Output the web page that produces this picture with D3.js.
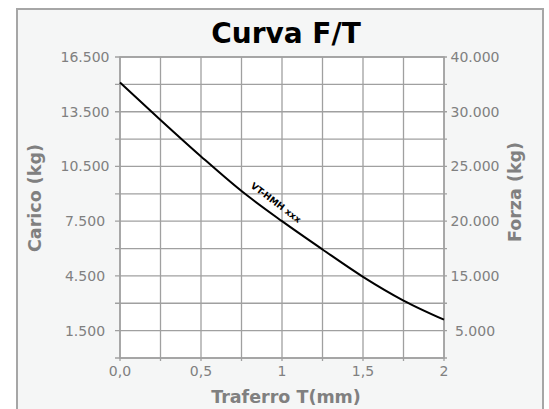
<!DOCTYPE html>
<html>
<head>
<meta charset="utf-8">
<script src="https://d3js.org/d3.v7.min.js"></script>
<style>
body { margin: 0; background: #ffffff; }
svg { display: block; font-family: "DejaVu Sans", Verdana, sans-serif; }
</style>
</head>
<body>
<div id="main"></div>
<script>
// data
var gap = [0, 0.25, 0.5, 0.75, 1, 1.25, 1.5, 1.75, 2];           // traferro T (mm)
var load = [15100, 13050, 11050, 9150, 7500, 5950, 4450, 3150, 2100]; // carico (kg)
var xTicks = [0, 0.25, 0.5, 0.75, 1, 1.25, 1.5, 1.75, 2];
var xTickLabels = {0: "0,0", 0.5: "0,5", 1: "1", 1.5: "1,5", 2: "2"};
var leftTicks = d3.range(0, 16501, 1500);
var leftTickLabels = ["1.500", "4.500", "7.500", "10.500", "13.500", "16.500"];
var rightTickLabels = ["5.000", "15.000", "20.000", "25.000", "30.000", "40.000"];
var seriesName = "VT-HMH xxx";

var width = 549, height = 409;
var plot = {left: 120, right: 444, top: 57, bottom: 358};
var gridColor = "#a0a0a0", textColor = "#808080";

var svg = d3.select("#main").append("svg")
    .attr("width", width)
    .attr("height", height);

// outer frame
svg.append("rect")
    .attr("x", 17).attr("y", 9)
    .attr("width", 526).attr("height", 420)
    .attr("fill", "#f5f6f6")
    .attr("stroke", "#a6a6a6")
    .attr("stroke-width", 2);

var x = d3.scaleLinear().domain([0, 2]).range([plot.left, plot.right]);
var y = d3.scaleLinear().domain([0, 16500]).range([plot.bottom, plot.top]);

// plot background
svg.append("rect")
    .attr("x", plot.left).attr("y", plot.top)
    .attr("width", plot.right - plot.left)
    .attr("height", plot.bottom - plot.top)
    .attr("fill", "#ffffff");

// grid
svg.append("g").selectAll("line.v")
    .data(xTicks)
  .enter().append("line")
    .attr("x1", function(d) { return x(d); }).attr("x2", function(d) { return x(d); })
    .attr("y1", plot.top).attr("y2", plot.bottom + 3)
    .attr("stroke", gridColor).attr("stroke-width", 1.3);

svg.append("g").selectAll("line.h")
    .data(leftTicks)
  .enter().append("line")
    .attr("x1", plot.left - 5).attr("x2", plot.right + 3)
    .attr("y1", function(d) { return y(d); }).attr("y2", function(d) { return y(d); })
    .attr("stroke", gridColor).attr("stroke-width", 1.3);

// plot border
svg.append("rect")
    .attr("x", plot.left).attr("y", plot.top)
    .attr("width", plot.right - plot.left)
    .attr("height", plot.bottom - plot.top)
    .attr("fill", "none")
    .attr("stroke", gridColor).attr("stroke-width", 1.5);

// axes labels (numbers)
var labelled = leftTicks.filter(function(d, i) { return i % 2 == 1; });

svg.append("g").selectAll("text")
    .data(labelled)
  .enter().append("text")
    .attr("x", 85)
    .attr("y", function(d) { return y(d); })
    .attr("dy", "0.35em")
    .attr("text-anchor", "middle")
    .attr("fill", textColor)
    .style("font-size", "14px")
    .text(function(d, i) { return leftTickLabels[i]; });

svg.append("g").selectAll("text")
    .data(labelled)
  .enter().append("text")
    .attr("x", 475)
    .attr("y", function(d) { return y(d); })
    .attr("dy", "0.35em")
    .attr("text-anchor", "middle")
    .attr("fill", textColor)
    .style("font-size", "14px")
    .text(function(d, i) { return rightTickLabels[i]; });

svg.append("g").selectAll("text")
    .data(xTicks.filter(function(d) { return xTickLabels[d] !== undefined; }))
  .enter().append("text")
    .attr("x", function(d) { return x(d); })
    .attr("y", 371)
    .attr("dy", "0.35em")
    .attr("text-anchor", "middle")
    .attr("fill", textColor)
    .style("font-size", "14px")
    .text(function(d) { return xTickLabels[d]; });

// titles
svg.append("text")
    .attr("x", 286).attr("y", 43)
    .attr("text-anchor", "middle")
    .attr("fill", "#000")
    .style("font-size", "28px").style("font-weight", "bold")
    .text("Curva F/T");

svg.append("text")
    .attr("x", 286).attr("y", 403)
    .attr("text-anchor", "middle")
    .attr("fill", textColor)
    .style("font-size", "17.5px").style("font-weight", "bold")
    .text("Traferro T(mm)");

svg.append("text")
    .attr("transform", "translate(35,198) rotate(-90)")
    .attr("dy", "0.35em")
    .attr("text-anchor", "middle")
    .attr("fill", textColor)
    .style("font-size", "17.5px").style("font-weight", "bold")
    .text("Carico (kg)");

svg.append("text")
    .attr("transform", "translate(515,192) rotate(-90)")
    .attr("dy", "0.35em")
    .attr("text-anchor", "middle")
    .attr("fill", textColor)
    .style("font-size", "17.5px").style("font-weight", "bold")
    .text("Forza (kg)");

// the curve
var pts = gap.map(function(g, i) { return [g, load[i]]; });
var line = d3.line()
    .x(function(d) { return x(d[0]); })
    .y(function(d) { return y(d[1]); })
    .curve(d3.curveMonotoneX);

svg.append("path")
    .datum(pts)
    .attr("d", line)
    .attr("fill", "none")
    .attr("stroke", "#000")
    .attr("stroke-width", 2);

// series label along the curve
svg.append("text")
    .attr("transform", "translate(" + x(0.963) + "," + y(8520) + ") rotate(37)")
    .attr("dy", "0.35em")
    .attr("text-anchor", "middle")
    .attr("fill", "#000")
    .style("font-size", "9px").style("font-weight", "bold")
    .text(seriesName);
</script>
</body>
</html>
